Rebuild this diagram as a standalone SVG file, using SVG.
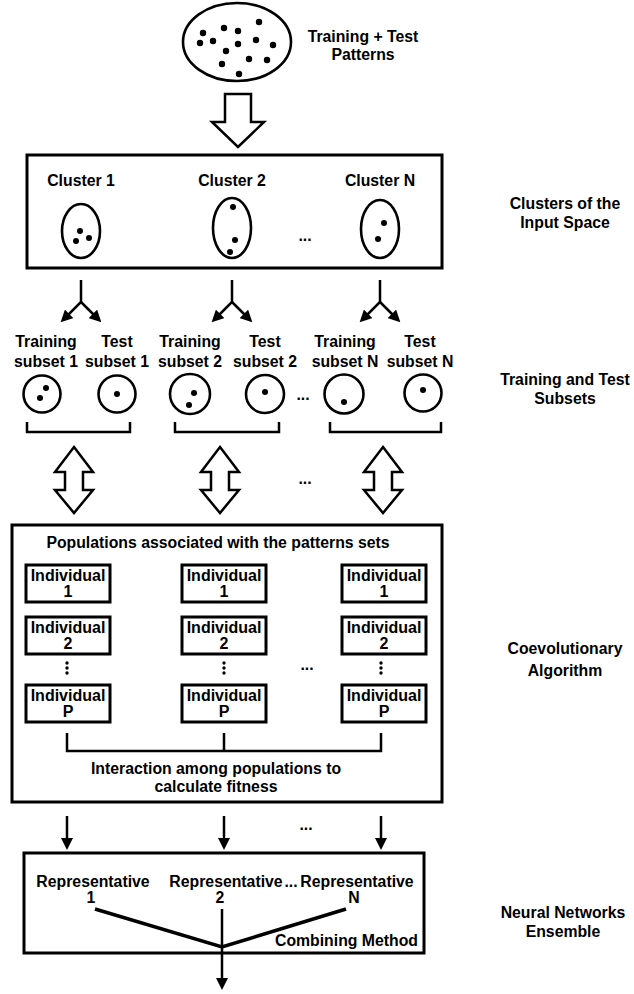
<svg xmlns="http://www.w3.org/2000/svg" width="634" height="994" viewBox="0 0 634 994">
<style>
text{font-family:"Liberation Sans",Arial,sans-serif;font-weight:bold;font-size:15.8px;fill:#000;text-anchor:middle}
.ind{font-size:16px}
.box{fill:#fff;stroke:#000;stroke-width:3}
.ibox{fill:#fff;stroke:#000;stroke-width:3}
.ell{fill:#fff;stroke:#000;stroke-width:2.6}
.dot{fill:#000}
.ln{fill:none;stroke:#000;stroke-width:2.5}
.thick{fill:none;stroke:#000;stroke-width:3.5}
.hollow{fill:#fff;stroke:#000;stroke-width:2.5;stroke-linejoin:miter}
</style>
<defs>
<marker id="ah" viewBox="0 0 12 12" refX="3" refY="6" markerWidth="12" markerHeight="12" markerUnits="userSpaceOnUse" orient="auto">
<path d="M0,0 L12,6 L0,12 Z" fill="#000"/>
</marker>
</defs>

<g id="patterns">
<ellipse class="ell" cx="237" cy="42" rx="54" ry="39" stroke-width="3"/>
<g class="dot">
<circle cx="203" cy="33" r="3.2"/><circle cx="224" cy="28" r="3.2"/><circle cx="238" cy="31" r="3.2"/><circle cx="259" cy="22" r="3.2"/>
<circle cx="200" cy="43" r="3.2"/><circle cx="213" cy="41" r="3.2"/><circle cx="238" cy="44" r="3.2"/><circle cx="256" cy="40" r="3.2"/>
<circle cx="273" cy="45" r="3.2"/><circle cx="226" cy="51" r="3.2"/><circle cx="249" cy="59" r="3.2"/><circle cx="267" cy="60" r="3.2"/>
<circle cx="222" cy="64" r="3.2"/><circle cx="239" cy="74" r="3.2"/>
</g>
<text x="363" y="42">Training + Test</text>
<text x="363" y="60">Patterns</text>
</g>

<g id="clusters">
<rect class="box" x="27" y="155" width="415" height="113"/>
<text x="81" y="186">Cluster 1</text>
<text x="232" y="186">Cluster 2</text>
<text x="380" y="186">Cluster N</text>
<ellipse class="ell" cx="81" cy="231" rx="19" ry="27"/>
<ellipse class="ell" cx="232" cy="228" rx="19" ry="30"/>
<ellipse class="ell" cx="380" cy="229" rx="19" ry="29"/>
<g class="dot">
<circle cx="80" cy="231" r="3"/><circle cx="76" cy="241" r="3"/><circle cx="89" cy="238" r="3"/>
<circle cx="233" cy="207" r="3"/><circle cx="235" cy="240" r="3"/><circle cx="230" cy="252" r="3"/>
<circle cx="384" cy="223" r="3"/><circle cx="378" cy="239" r="3"/>
</g>
<text x="305" y="241">...</text>
<text x="565" y="209">Clusters of the</text>
<text x="565" y="228">Input Space</text>
</g>

<g id="subsets">
<text x="46" y="347">Training</text><text x="46" y="367">subset 1</text>
<text x="117" y="347">Test</text><text x="117" y="367">subset 1</text>
<text x="190" y="347">Training</text><text x="190" y="367">subset 2</text>
<text x="265" y="347">Test</text><text x="265" y="367">subset 2</text>
<text x="345" y="347">Training</text><text x="345" y="367">subset N</text>
<text x="420" y="347">Test</text><text x="420" y="367">subset N</text>
<circle class="ell" cx="42" cy="394" r="18.5"/>
<circle class="ell" cx="117" cy="394" r="18.5"/>
<circle class="ell" cx="190" cy="394" r="20"/>
<circle class="ell" cx="265" cy="394" r="19"/>
<circle class="ell" cx="344" cy="394" r="19.5"/>
<circle class="ell" cx="423" cy="393" r="18.5"/>
<g class="dot">
<circle cx="46" cy="388" r="3"/><circle cx="40" cy="398" r="3"/>
<circle cx="117" cy="394" r="3"/>
<circle cx="194" cy="393" r="3"/><circle cx="189" cy="405" r="3"/>
<circle cx="265" cy="392" r="3"/>
<circle cx="344" cy="402" r="3"/>
<circle cx="423" cy="390" r="3"/>
</g>
<text x="303" y="400">...</text>
<text x="565" y="385">Training and Test</text>
<text x="565" y="404">Subsets</text>
</g>

<g id="coevolution">
<rect class="box" x="12" y="525" width="430" height="277"/>
<text x="218" y="548">Populations associated with the patterns sets</text>
<g id="pop1">
<rect class="ibox" x="26" y="565" width="84" height="37"/><text class="ind" x="68" y="581">Individual</text><text class="ind" x="68" y="597">1</text>
<rect class="ibox" x="26" y="617" width="84" height="37"/><text class="ind" x="68" y="633">Individual</text><text class="ind" x="68" y="649">2</text>
<rect class="ibox" x="26" y="685" width="84" height="37"/><text class="ind" x="68" y="701">Individual</text><text class="ind" x="68" y="717">P</text>
</g>
<g id="pop2">
<rect class="ibox" x="182" y="565" width="84" height="37"/><text class="ind" x="224" y="581">Individual</text><text class="ind" x="224" y="597">1</text>
<rect class="ibox" x="182" y="617" width="84" height="37"/><text class="ind" x="224" y="633">Individual</text><text class="ind" x="224" y="649">2</text>
<rect class="ibox" x="182" y="685" width="84" height="37"/><text class="ind" x="224" y="701">Individual</text><text class="ind" x="224" y="717">P</text>
</g>
<g id="popN">
<rect class="ibox" x="342" y="565" width="84" height="37"/><text class="ind" x="384" y="581">Individual</text><text class="ind" x="384" y="597">1</text>
<rect class="ibox" x="342" y="617" width="84" height="37"/><text class="ind" x="384" y="633">Individual</text><text class="ind" x="384" y="649">2</text>
<rect class="ibox" x="342" y="685" width="84" height="37"/><text class="ind" x="384" y="701">Individual</text><text class="ind" x="384" y="717">P</text>
</g>
<g class="dot">
<circle cx="67" cy="663" r="1.7"/><circle cx="67" cy="668" r="1.7"/><circle cx="67" cy="673" r="1.7"/>
<circle cx="224" cy="663" r="1.7"/><circle cx="224" cy="668" r="1.7"/><circle cx="224" cy="673" r="1.7"/>
<circle cx="381" cy="663" r="1.7"/><circle cx="381" cy="668" r="1.7"/><circle cx="381" cy="673" r="1.7"/>
</g>
<text x="307" y="670">...</text>
<path class="ln" d="M67,733 V751 H381 V733 M224,733 V751"/>
<text x="216" y="774">Interaction among populations to</text>
<text x="216" y="792">calculate fitness</text>
<text x="565" y="654">Coevolutionary</text>
<text x="565" y="676">Algorithm</text>
</g>

<g id="ensemble">
<rect class="box" x="24" y="853" width="400" height="100"/>
<text x="93" y="887">Representative</text><text x="91" y="903">1</text>
<text x="226" y="887">Representative</text><text x="220" y="903">2</text>
<text x="291" y="887">...</text>
<text x="357" y="887">Representative</text><text x="354" y="903">N</text>
<text x="418" y="946" style="text-anchor:end">Combining Method</text>
<text x="563" y="918">Neural Networks</text>
<text x="563" y="937">Ensemble</text>
</g>

<g id="connectors">
<path class="hollow" d="M225,94 H251 V122 H264 L238,147 L212,122 H225 Z"/>
<path class="ln" d="M81,280 V302 L67,316" marker-end="url(#ah)"/>
<path class="ln" d="M81,302 L95,316" marker-end="url(#ah)"/>
<path class="ln" d="M232,280 V302 L218,316" marker-end="url(#ah)"/>
<path class="ln" d="M232,302 L246,316" marker-end="url(#ah)"/>
<path class="ln" d="M380,280 V302 L366,316" marker-end="url(#ah)"/>
<path class="ln" d="M380,302 L394,316" marker-end="url(#ah)"/>
<path class="ln" d="M27,422 V432 H130 V422 M175,422 V432 H279 V422 M330,422 V432 H441 V422" stroke-width="2"/>
<path class="hollow" d="M74,447 L93,472 H83 V490 H93 L74,513 L55,490 H65 V472 H55 Z"/>
<path class="hollow" d="M220,447 L239,472 H229 V490 H239 L220,513 L201,490 H211 V472 H201 Z"/>
<path class="hollow" d="M383,447 L402,472 H392 V490 H402 L383,513 L364,490 H374 V472 H364 Z"/>
<text x="305" y="484">...</text>
<path class="ln" d="M67,816 V841" marker-end="url(#ah)"/>
<path class="ln" d="M224,816 V841" marker-end="url(#ah)"/>
<path class="ln" d="M381,816 V841" marker-end="url(#ah)"/>
<text x="306" y="830">...</text>
<path class="thick" d="M95,909 L222,947 L346,909"/>
<path class="ln" d="M222,909 V981" marker-end="url(#ah)"/>
</g>
</svg>
